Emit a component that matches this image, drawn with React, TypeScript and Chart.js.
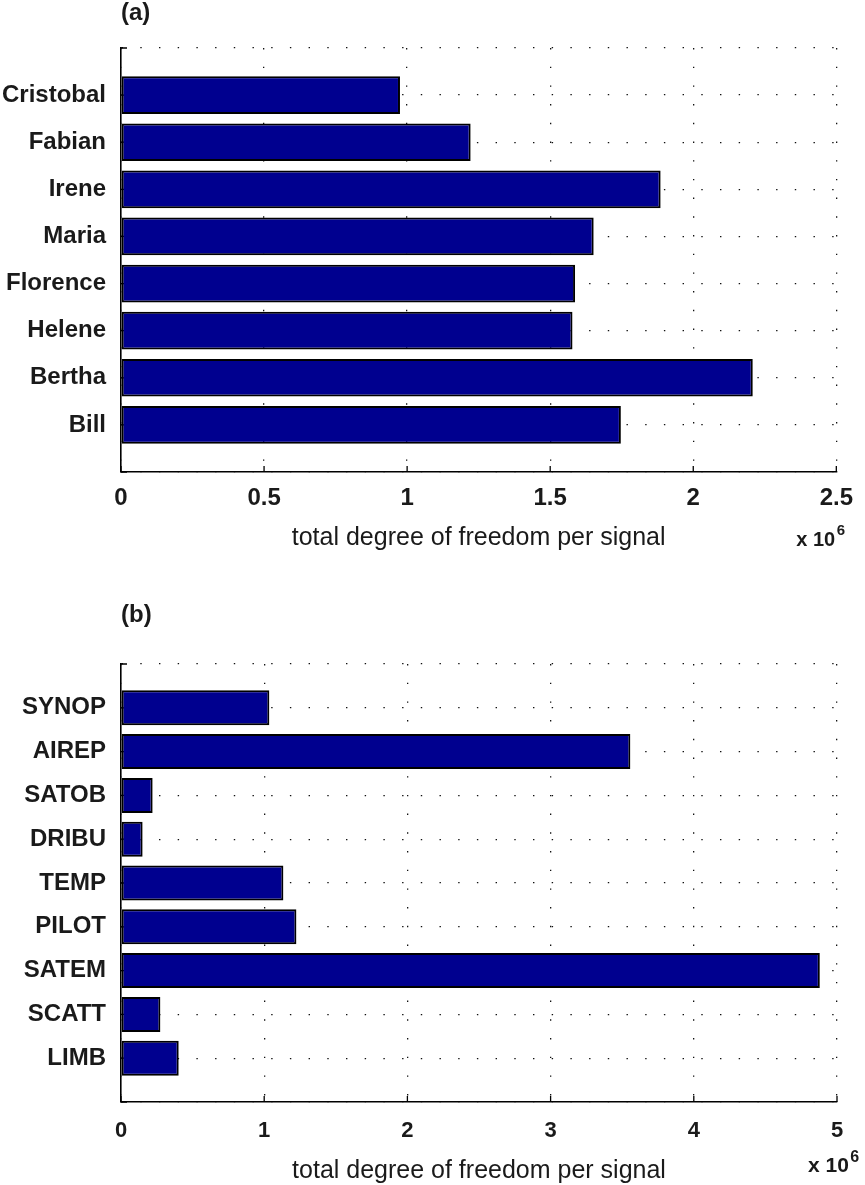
import React, { useEffect, useRef } from 'react';
import { Chart, registerables } from 'chart.js';

Chart.register(...registerables);

// ---------- data ----------
const stormNames = ['Cristobal', 'Fabian', 'Irene', 'Maria', 'Florence', 'Helene', 'Bertha', 'Bill'];
const stormValues = [0.975e6, 1.222e6, 1.886e6, 1.652e6, 1.587e6, 1.578e6, 2.208e6, 1.747e6];
const stormTickLabels = ['0', '0.5', '1', '1.5', '2', '2.5'];
const stormAxisMax = 2.5e6;
const stormAxisStep = 0.5e6;

const obsNames = ['SYNOP', 'AIREP', 'SATOB', 'DRIBU', 'TEMP', 'PILOT', 'SATEM', 'SCATT', 'LIMB'];
const obsValues = [1.036e6, 3.557e6, 0.221e6, 0.151e6, 1.134e6, 1.225e6, 4.88e6, 0.275e6, 0.403e6];
const obsTickLabels = ['0', '1', '2', '3', '4', '5'];
const obsAxisMax = 5e6;
const obsAxisStep = 1e6;

const panelLetters = ['(a)', '(b)'];
const axisTitle = 'total degree of freedom per signal';
const exponentBase = 'x 10';
const exponentPower = '6';

// ---------- styling / layout ----------
const FONT = '"Liberation Sans", Arial, Helvetica, sans-serif';
const TEXT = '#1a1a1a';
const BAR_FILL = 'rgb(0,0,143)';

type Layout = {
  top: number;
  canvasH: number;
  plotTop: number;
  xAxisH: number;
  letterBaseline: number;
  expDx: number;
  expBaseline: number;
  expSize: number;
  expSupSize: number;
  expSupRise: number;
  titlePadBottom: number;
  labelSize: number;
  tickSize: number;
  tickPad: number;
};

const layoutA: Layout = {
  top: 0, canvasH: 592, plotTop: 48, xAxisH: 120, letterBaseline: 20,
  expDx: -40, expBaseline: 546, expSize: 20, expSupSize: 15, expSupRise: 11,
  titlePadBottom: 41, labelSize: 24, tickSize: 24, tickPad: 12,
};
const layoutB: Layout = {
  top: 592, canvasH: 593, plotTop: 72, xAxisH: 83, letterBaseline: 30,
  expDx: -29, expBaseline: 580, expSize: 21, expSupSize: 16, expSupRise: 10,
  titlePadBottom: 1.5, labelSize: 24, tickSize: 22, tickPad: 16,
};

function decorPlugin(letter: string, L: Layout) {
  return {
    id: 'decor',
    beforeDatasetsDraw(chart: any) {
      const { ctx, chartArea } = chart;
      const xs = chart.scales.x;
      const ys = chart.scales.y;
      ctx.save();
      ctx.strokeStyle = '#000';
      ctx.lineWidth = 1.3;
      ctx.beginPath();
      xs.ticks.forEach((_t: any, i: number) => {
        const px = xs.getPixelForTick(i);
        ctx.moveTo(px, chartArea.bottom);
        ctx.lineTo(px, chartArea.bottom - 6);
      });
      ys.ticks.forEach((_t: any, i: number) => {
        const py = ys.getPixelForTick(i);
        ctx.moveTo(chartArea.left, py);
        ctx.lineTo(chartArea.left + 6, py);
      });
      ctx.stroke();
      ctx.restore();
    },
    afterDraw(chart: any) {
      const { ctx, chartArea } = chart;
      ctx.save();
      ctx.fillStyle = TEXT;
      ctx.textBaseline = 'alphabetic';
      ctx.textAlign = 'left';
      ctx.font = `bold 24px ${FONT}`;
      ctx.fillText(letter, chartArea.left, L.letterBaseline);
      ctx.font = `bold ${L.expSize}px ${FONT}`;
      const x0 = chartArea.right + L.expDx;
      ctx.fillText(exponentBase, x0, L.expBaseline);
      const w = ctx.measureText(exponentBase).width;
      ctx.font = `bold ${L.expSupSize}px ${FONT}`;
      ctx.fillText(exponentPower, x0 + w + 1.5, L.expBaseline - L.expSupRise);
      ctx.restore();
    },
  };
}

function BarPanel(props: {
  letter: string;
  names: string[];
  values: number[];
  tickLabels: string[];
  axisMax: number;
  axisStep: number;
  L: Layout;
}) {
  const ref = useRef<HTMLCanvasElement | null>(null);
  const { letter, names, values, tickLabels, axisMax, axisStep, L } = props;

  useEffect(() => {
    if (!ref.current) return;
    const labels = ['', ...names, ''];
    const data = [null, ...values, null];
    const dotted = [1.4, 17.3];
    const chart = new Chart(ref.current, {
      type: 'bar',
      data: {
        labels,
        datasets: [
          {
            data: data as any,
            backgroundColor: BAR_FILL,
            borderColor: '#000',
            borderWidth: 2,
            borderSkipped: false,
            inflateAmount: 0,
            barPercentage: 0.8,
            categoryPercentage: 1,
          },
        ],
      },
      options: {
        indexAxis: 'y',
        responsive: false,
        animation: false,
        events: [],
        layout: { padding: { top: L.plotTop, right: 28, bottom: 0, left: 0 } },
        plugins: { legend: { display: false }, tooltip: { enabled: false }, title: { display: false } },
        scales: {
          x: {
            type: 'linear',
            min: 0,
            max: axisMax,
            afterFit: (s: any) => { s.height = L.xAxisH; },
            ticks: {
              stepSize: axisStep,
              padding: L.tickPad,
              color: TEXT,
              font: { family: FONT, size: L.tickSize, weight: 'bold' },
              callback: (_v: any, i: number) => tickLabels[i] ?? '',
            },
            grid: { color: '#111', lineWidth: 1.3, drawTicks: false },
            border: { display: true, color: '#000', width: 1.6, dash: dotted },
            title: {
              display: true,
              text: axisTitle,
              color: TEXT,
              font: { family: FONT, size: 25, weight: 'normal', lineHeight: 1 },
              padding: { top: 0, bottom: L.titlePadBottom },
            },
          },
          y: {
            type: 'category',
            offset: false,
            afterFit: (s: any) => { s.width = 121; },
            ticks: {
              autoSkip: false,
              padding: 15,
              color: TEXT,
              font: { family: FONT, size: L.labelSize, weight: 'bold' },
            },
            grid: { color: '#111', lineWidth: 1.3, drawTicks: false, offset: false },
            border: { display: true, color: '#000', width: 1.6, dash: dotted },
          },
        },
      },
      plugins: [decorPlugin(letter, L)],
    } as any);
    return () => chart.destroy();
  }, []);

  return (
    <canvas
      ref={ref}
      width={865}
      height={L.canvasH}
      style={{ position: 'absolute', left: 0, top: L.top, width: 865, height: L.canvasH, display: 'block' }}
    />
  );
}

export default function App() {
  return (
    <div style={{ position: 'absolute', left: 0, top: 0, width: 865, height: 1185, background: '#fff', overflow: 'hidden' }}>
      <BarPanel
        letter={panelLetters[0]}
        names={stormNames}
        values={stormValues}
        tickLabels={stormTickLabels}
        axisMax={stormAxisMax}
        axisStep={stormAxisStep}
        L={layoutA}
      />
      <BarPanel
        letter={panelLetters[1]}
        names={obsNames}
        values={obsValues}
        tickLabels={obsTickLabels}
        axisMax={obsAxisMax}
        axisStep={obsAxisStep}
        L={layoutB}
      />
    </div>
  );
}
